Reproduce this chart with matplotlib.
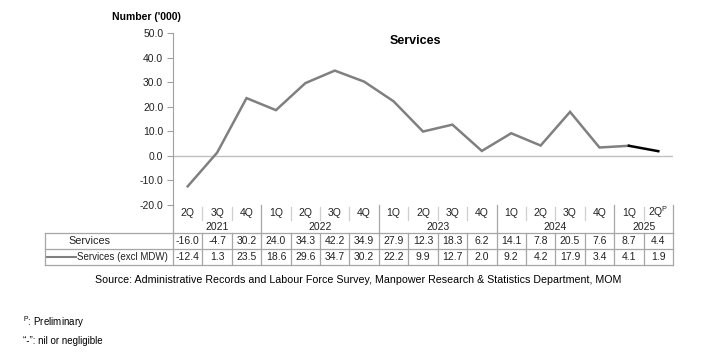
import matplotlib
matplotlib.use("Agg")
import matplotlib.pyplot as plt
import numpy as np

plt.rcParams['font.family'] = ['Liberation Sans', 'DejaVu Sans']
plt.rcParams['mathtext.fontset'] = 'custom'
plt.rcParams['mathtext.rm'] = 'Liberation Sans'

# data
quarters = ['2Q', '3Q', '4Q', '1Q', '2Q', '3Q', '4Q', '1Q', '2Q', '3Q', '4Q',
            '1Q', '2Q', '3Q', '4Q', '1Q', '2Q$^{\\mathrm{P}}$']
years = ['2021', '2022', '2023', '2024', '2025']
year_counts = [3, 4, 4, 4, 2]
services = [-16.0, -4.7, 30.2, 24.0, 34.3, 42.2, 34.9, 27.9, 12.3, 18.3, 6.2,
            14.1, 7.8, 20.5, 7.6, 8.7, 4.4]
services_excl = [-12.4, 1.3, 23.5, 18.6, 29.6, 34.7, 30.2, 22.2, 9.9, 12.7, 2.0,
                 9.2, 4.2, 17.9, 3.4, 4.1, 1.9]
n = len(services_excl)

W, H = 716, 356
fig = plt.figure(figsize=(W / 100, H / 100), dpi=100)
ax_left, ax_right, ax_top, ax_bot = 173, 673, 33, 205
ax = fig.add_axes([ax_left / W, 1 - ax_bot / H, (ax_right - ax_left) / W,
                   (ax_bot - ax_top) / H])

x = np.arange(n)
ax.plot(x[:-1], services_excl[:-1], color='#808080', lw=1.8, solid_joinstyle='miter')
ax.plot(x[-2:], services_excl[-2:], color='black', lw=1.8)
ax.axhline(0, color='#c0c0c0', lw=1, zorder=0)

ax.set_xlim(-0.5, n - 0.5)
ax.set_ylim(-20, 50)
ax.set_yticks(np.arange(-20, 51, 10))
ax.set_yticklabels([f'{v:.1f}' for v in np.arange(-20, 51, 10)])
ax.set_xticks([])
for s in ['top', 'right', 'bottom']:
    ax.spines[s].set_visible(False)
ax.spines['left'].set_color('#a0a0a0')
ax.tick_params(axis='y', length=4, color='#a0a0a0', labelsize=7.5,
               labelcolor='#222222', pad=3)

# table
tr = ax.get_xaxis_transform()
col_w = (ax_right - ax_left) / n


def yf(py):
    return (ax_bot - py) / (ax_bot - ax_top)


def xd(px):
    return (px - ax_left) / col_w - 0.5


fig.text(415 / W, 1 - 41 / H, 'Services', ha='center', va='center',
         fontsize=9, fontweight='bold')
fig.text(112 / W, 1 - 17 / H, "Number ('000)", ha='left', va='center',
         fontsize=7.5, fontweight='bold')

grid = '#a6a6a6'
lw = 0.9
r_q, r_y, r1, r2 = 220, 233, 249, 265
# axis extension through header rows
ax.plot([-0.5, -0.5], [yf(ax_bot), yf(r_y)], transform=tr, color=grid,
        lw=lw, clip_on=False)
# quarter labels
for i, q in enumerate(quarters):
    ax.text(i, yf(212.5), q, transform=tr, ha='center', va='center',
            fontsize=7.5, color='#222222')
# separators in header
start = 0
for yr, c in zip(years, year_counts):
    mid = start + (c - 1) / 2
    ax.text(mid, yf(227), yr, transform=tr, ha='center', va='center',
            fontsize=7.5, color='#222222')
    for k in range(1, c):
        xs = start + k - 0.5
        ax.plot([xs, xs], [yf(207), yf(r_q)], transform=tr, color='#cfcfcf',
                lw=lw, clip_on=False)
    start += c
    xe = start - 0.5
    ax.plot([xe, xe], [yf(ax_bot), yf(r_y)], transform=tr, color=grid,
            lw=lw, clip_on=False)

# data rows grid
xl = xd(45)
for py in [r_y, r1, r2]:
    ax.plot([xl, n - 0.5], [yf(py), yf(py)], transform=tr, color=grid,
            lw=lw, clip_on=False)
for xs in [xl] + list(np.arange(n + 1) - 0.5):
    ax.plot([xs, xs], [yf(r_y), yf(r2)], transform=tr, color=grid,
            lw=lw, clip_on=False)

for i in range(n):
    ax.text(i, yf((r_y + r1) / 2), f'{services[i]:.1f}', transform=tr,
            ha='center', va='center', fontsize=7.5, color='#222222')
    ax.text(i, yf((r1 + r2) / 2), f'{services_excl[i]:.1f}', transform=tr,
            ha='center', va='center', fontsize=7.5, color='#222222')

ax.text(xd(68), yf((r_y + r1) / 2), 'Services', transform=tr, ha='left',
        va='center', fontsize=7.8, color='#222222')
ax.plot([xd(47), xd(76)], [yf((r1 + r2) / 2)] * 2, transform=tr,
        color='#808080', lw=1.5, clip_on=False)
ax.text(xd(77), yf((r1 + r2) / 2), 'Services (excl MDW)', transform=tr,
        ha='left', va='center', fontsize=7, color='#222222')

fig.text(358 / W, 1 - 280 / H,
         'Source: Administrative Records and Labour Force Survey, Manpower '
         'Research & Statistics Department, MOM', ha='center', va='center',
         fontsize=7.7)
fig.text(23 / W, 1 - 322 / H, '$^{\\mathrm{P}}$: Preliminary', ha='left',
         va='center', fontsize=7)
fig.text(23 / W, 1 - 341 / H, '\u201c-\u201d: nil or negligible', ha='left',
         va='center', fontsize=7)

fig.savefig('out.png', dpi=100)
